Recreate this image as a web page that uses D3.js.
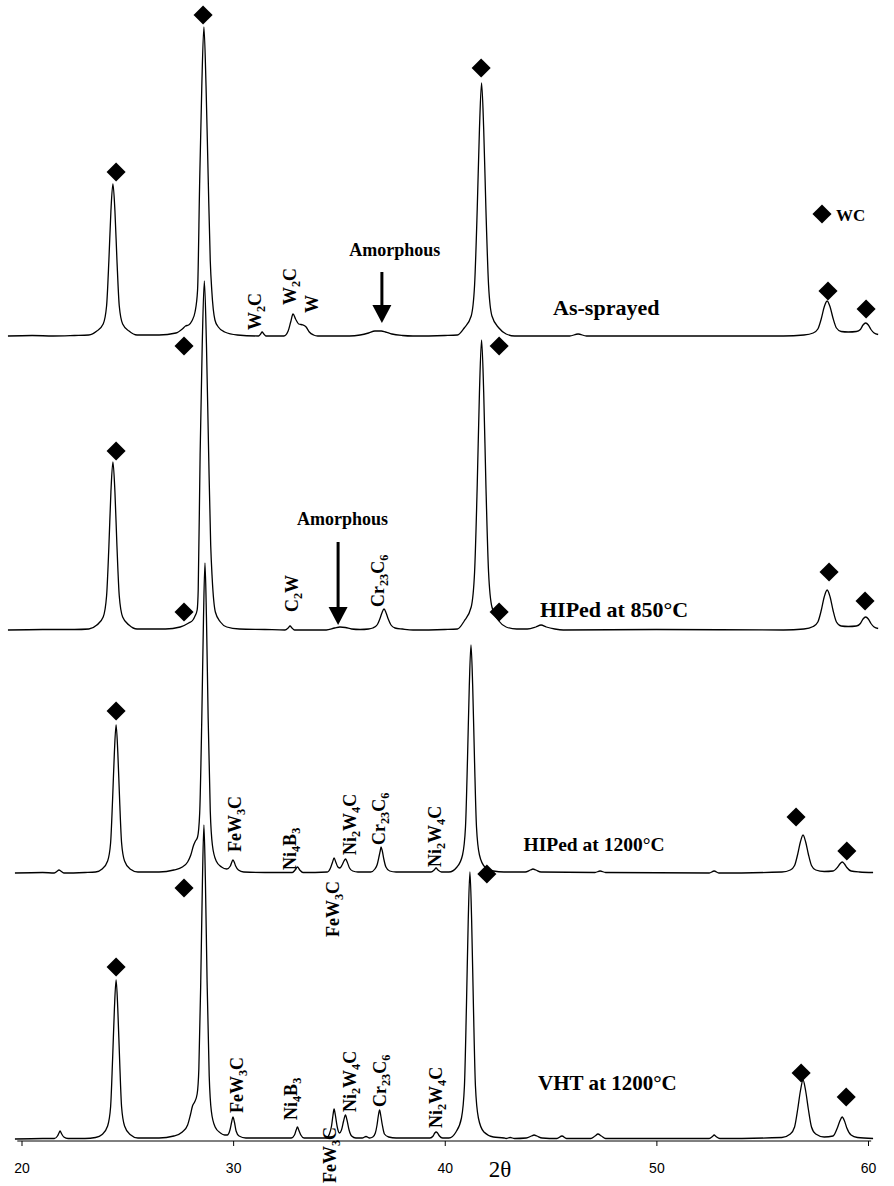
<!DOCTYPE html>
<html><head><meta charset="utf-8">
<script src="https://cdn.jsdelivr.net/npm/d3@7"></script>
<style>body{margin:0;background:#fff}svg{display:block}</style>
</head><body>
<script>
// ---------- DATA (2θ in degrees, intensity in arbitrary units above each trace's baseline) ----------
const seriesNames = ["As-sprayed", "HIPed at 850°C", "HIPed at 1200°C", "VHT at 1200°C"];
const seriesOffsets = [803, 509, 266, 0];
const xTicks = [20, 30, 40, 50, 60];

const asSprayed = [[19.36,0],[20.5,0.5],[21.5,0],[22.5,0.5],[23.18,1],[23.56,5],[23.86,12],[24.02,30],[24.13,76],[24.225,125],[24.32,152],[24.415,125],[24.51,76],[24.62,30],[24.78,12],[25.08,5],[25.46,1],[26.5,1],[27.3,3],[27.6,7],[27.75,10],[27.9,11],[28.05,15],[28.2,24],[28.32,46],[28.42,155],[28.52,250],[28.62,309],[28.72,250],[28.82,160],[28.92,75],[28.99,46],[29.14,16],[29.3,9],[29.6,4],[30.2,1],[31.2,0],[31.3,2],[31.37,4],[31.45,2],[31.55,0],[32.4,0],[32.6,5],[32.72,14],[32.83,22],[32.95,17],[33.1,12],[33.3,11],[33.45,9],[33.6,4],[33.8,1],[34.0,0],[35.5,0],[36.0,1],[36.4,3],[36.7,5],[37.0,5],[37.2,4],[37.5,2],[38.0,0.5],[38.5,0],[40.0,0.5],[40.6,1],[40.92,8],[41.25,20],[41.41,51],[41.535,127],[41.64,207],[41.74,253],[41.84,207],[41.945,127],[42.07,51],[42.23,20],[42.56,8],[42.9,2],[43.3,0],[45.9,0],[46.3,2],[46.7,0],[56.0,0],[56.97,1],[57.41,3],[57.63,7],[57.795,17.5],[57.93,29],[58.07,35],[58.21,29],[58.345,18],[58.51,8],[58.73,4.5],[59.07,4],[59.45,4.5],[59.64,6.5],[59.765,11],[59.89,13],[60.015,11],[60.14,6.5],[60.29,3],[60.48,1.5]];

const hiped850 = [[19.36,0],[21,0.5],[22.5,0.5],[23.18,1],[23.56,5],[23.86,13],[24.02,34],[24.13,84],[24.225,138],[24.32,168],[24.415,138],[24.51,84],[24.62,34],[24.78,13],[25.08,5],[25.46,1],[26.8,1],[27.5,3],[27.9,7],[28.1,10],[28.2,14],[28.3,20],[28.35,40],[28.44,175],[28.54,285],[28.64,349],[28.74,285],[28.84,180],[28.94,85],[29.01,52],[29.16,18],[29.4,8],[29.7,3],[30.3,1],[31.5,0.5],[32.45,0],[32.6,2],[32.69,4],[32.78,2],[32.9,0],[34.4,0],[34.8,2],[35.05,3],[35.3,2.5],[35.6,1],[36.0,0.5],[36.4,1],[36.6,2],[36.8,5],[36.93,11],[37.03,17],[37.13,21],[37.23,17],[37.33,11],[37.46,5],[37.65,2],[38.0,1],[38.5,0],[40.0,0.5],[40.6,1],[40.92,9],[41.25,23],[41.41,58],[41.535,145],[41.64,238],[41.74,290],[41.84,238],[41.945,145],[42.07,58],[42.23,23],[42.56,9],[42.9,3],[43.4,1],[43.9,1],[44.3,3],[44.55,5],[44.8,3],[45.2,1],[45.6,0],[50,0.5],[56.0,0],[56.97,1],[57.41,3.5],[57.63,8],[57.795,20],[57.93,33],[58.07,40],[58.21,33],[58.345,20],[58.51,8],[58.73,4],[59.07,3.5],[59.45,4],[59.64,6.5],[59.765,11],[59.89,13],[60.015,11],[60.14,6.5],[60.29,3],[60.48,1.5]];

const hiped1200 = [[19.69,0],[21.0,0.5],[21.55,0],[21.7,2],[21.77,3],[21.85,2],[22.0,0],[23.0,0.5],[23.5,1],[23.81,4],[24.07,12],[24.21,30],[24.305,74],[24.39,121],[24.47,148],[24.55,121],[24.635,74],[24.73,30],[24.87,12],[25.13,4],[25.5,1],[26.5,1],[27.2,3],[27.6,6],[27.85,11],[28.0,18],[28.12,27],[28.22,32],[28.32,36],[28.42,60],[28.52,155],[28.6,255],[28.67,310],[28.74,255],[28.82,155],[28.92,62],[29.02,28],[29.2,12],[29.45,6],[29.7,4],[29.87,7],[29.94,11],[29.99,13],[30.05,11],[30.12,7],[30.25,3],[30.5,1],[31.5,0.5],[32.8,0.5],[32.93,3],[33.04,6],[33.15,3],[33.3,0.5],[34.45,1],[34.6,5],[34.7,11],[34.77,15],[34.85,11],[34.95,6],[35.05,5],[35.15,8],[35.24,12],[35.31,14],[35.39,11],[35.5,5],[35.65,2],[35.9,1],[36.5,1],[36.7,4],[36.8,8],[36.9,17],[36.95,22],[36.99,26],[37.05,22],[37.12,14],[37.22,6],[37.4,2],[37.7,1],[39.35,1],[39.5,3],[39.59,5],[39.68,3],[39.85,1],[40.2,1],[40.58,6],[40.84,18],[40.98,46],[41.075,114],[41.16,187],[41.24,228],[41.32,187],[41.405,114],[41.5,46],[41.64,18],[41.9,6],[42.3,2],[42.8,1],[43.8,1],[44.05,3],[44.17,4],[44.3,3],[44.55,1],[47.1,0.5],[47.34,2],[47.6,0.5],[52.5,0],[52.73,2],[52.95,0],[55.93,1],[56.33,3],[56.53,7.5],[56.68,19],[56.805,31],[56.93,38],[57.055,31],[57.18,19],[57.33,7.5],[57.53,3],[57.93,1.5],[58.35,2],[58.55,5.5],[58.67,9],[58.78,11],[58.89,9],[59.0,5.5],[59.2,2],[59.6,1],[60.24,0.5]];

const vht1200 = [[19.69,0],[21.0,0.5],[21.55,0.5],[21.7,3],[21.77,6],[21.82,8],[21.9,5],[22.0,2],[22.2,0.5],[23.0,0.5],[23.5,1.5],[23.81,4.5],[24.07,13],[24.21,32],[24.305,80],[24.39,130],[24.47,159],[24.55,130],[24.635,80],[24.73,32],[24.87,13],[25.13,4.5],[25.5,1],[26.5,1],[27.2,3],[27.6,7],[27.85,14],[27.98,24],[28.08,33],[28.18,37],[28.3,45],[28.38,70],[28.47,157],[28.55,258],[28.62,314],[28.69,258],[28.77,157],[28.87,63],[28.97,28],[29.15,12],[29.4,6],[29.6,4],[29.72,4],[29.85,9],[29.93,17],[29.99,22],[30.06,17],[30.14,8],[30.28,3],[30.6,1],[32.75,1],[32.9,4],[32.98,9],[33.04,12],[33.1,9],[33.2,4],[33.35,1],[34.4,1],[34.55,5],[34.65,13],[34.72,24],[34.77,30],[34.83,24],[34.92,12],[35.02,6],[35.12,9],[35.22,18],[35.31,24],[35.38,19],[35.48,9],[35.6,3],[35.8,1],[36.1,1],[36.28,2.5],[36.45,1],[36.6,2],[36.72,6],[36.8,14],[36.86,23],[36.92,29],[36.98,23],[37.05,14],[37.15,5],[37.35,2],[37.7,1],[39.3,1],[39.45,3],[39.53,6],[39.59,7],[39.66,6],[39.75,3],[39.9,1],[40.2,1],[40.53,7],[40.79,21],[40.93,53],[41.025,133],[41.11,219],[41.19,267],[41.27,219],[41.355,133],[41.45,53],[41.59,21],[41.85,7],[42.3,2],[42.8,1],[42.9,0.5],[43.09,1.5],[43.3,0.5],[43.85,1],[44.1,3],[44.22,4],[44.35,3],[44.6,1],[45.3,0.5],[45.54,3],[45.75,0.5],[46.9,0.5],[47.1,3],[47.24,5],[47.4,3],[47.6,0.5],[52.5,0.5],[52.65,2.5],[52.73,4],[52.82,2.5],[53.0,0.5],[55.93,1.5],[56.33,5],[56.53,12],[56.68,30],[56.805,48],[56.93,59],[57.055,48],[57.18,30],[57.33,12],[57.53,5],[57.93,2],[58.35,3],[58.55,11],[58.67,18],[58.78,22],[58.89,18],[59.0,11],[59.2,4],[59.5,1.5],[60.24,0.5]];

// WC reflection markers (2θ, intensity above trace baseline)
const wcMarkers = [
  [[24.47,164],[28.58,321],[41.72,268],[58.11,45],[59.91,27]],
  [[24.47,179],[27.68,284],[42.57,284],[58.16,58],[59.86,29]],
  [[24.47,162],[27.68,261],[42.57,261],[56.6,56],[59.0,22]],
  [[24.47,172],[27.68,251],[41.99,265],[56.84,66],[58.97,42]]
];
// Phase labels (text, 2θ of label, intensity at label start)
const phaseLabels = [
  [["W2C",31.04,6],["W2C",32.69,31],["W",33.73,23]],
  [["C2W",32.78,18],["Cr23C6",36.85,23]],
  [["FeW3C",30.09,21],["Ni4B3",32.69,3],["Ni2W4C",35.52,18],["Cr23C6",36.89,28],["Ni2W4C",39.54,6],["FeW3C",34.72,-64]],
  [["FeW3C",30.18,26],["Ni4B3",32.74,19],["Ni2W4C",35.52,27],["Cr23C6",36.94,32],["Ni2W4C",39.59,11],["FeW3C",34.58,-44]]
];
// series name label anchor (2θ, intensity)
const seriesLabelPos = [[45.12,21],[44.5,13],[43.72,22],[44.41,49]];
// amorphous annotations: [series, text 2θ, text intensity, arrow 2θ, arrow top, arrow tip]
const amorphous = [[0,35.49,80,37.03,64,13],[1,33.02,105,34.96,88,5]];

const traces = [asSprayed, hiped850, hiped1200, vht1200];

// ---------- DRAW ----------
const W = 894, H = 1186;
const svg = d3.select("body").append("svg").attr("width", W).attr("height", H);
const x = d3.scaleLinear().domain([20, 60]).range([21.5, 868]);
const y = d3.scaleLinear().domain([0, 1140]).range([1139, -1]);
const serif = "'Liberation Serif','Times New Roman',serif";

const line = d3.line().x(d => x(d[0])).y(d => y(d[1])).curve(d3.curveMonotoneX);

// axis
const axisY = 1141;
const ax = svg.append("g").attr("transform", `translate(0,${axisY})`)
  .call(d3.axisBottom(x).tickValues(xTicks).tickSize(5).tickPadding(17).tickFormat(d3.format("d")));
ax.select(".domain").attr("d", `M${x(19.8)},0H${x(60.15)}`).attr("stroke", "#000").attr("stroke-width", 1);
ax.selectAll(".tick line").attr("stroke", "#000");
ax.selectAll(".tick text").attr("font-family", "'Liberation Sans',Arial,sans-serif").attr("font-size", 14).attr("fill", "#000");
svg.append("text").attr("x", 500).attr("y", 1177).attr("text-anchor", "middle")
  .attr("font-family", serif).attr("font-size", 23).text("2θ");

// traces
traces.forEach((t, i) => {
  const off = seriesOffsets[i];
  svg.append("path").datum(t.map(d => [d[0], d[1] + off]))
    .attr("d", line).attr("fill", "none").attr("stroke", "#000").attr("stroke-width", 1.3)
    .attr("stroke-linejoin", "round");
});

// diamonds
function diamond(cx, cy, s) {
  svg.append("rect").attr("x", -s/2).attr("y", -s/2).attr("width", s).attr("height", s)
    .attr("transform", `translate(${cx},${cy}) rotate(45)`).attr("fill", "#000");
}
wcMarkers.forEach((m, i) => m.forEach(d => diamond(x(d[0]), y(d[1] + seriesOffsets[i]), 13.5)));
// legend
diamond(822, 214, 13.5);
svg.append("text").attr("x", 836).attr("y", 221).attr("font-family", serif).attr("font-weight", "bold")
  .attr("font-size", 17).text("WC");

// formula labels (rotated, digits as subscripts)
function formula(px, py, str, size) {
  const t = svg.append("text").attr("transform", `translate(${px + size*0.33},${py}) rotate(-90)`)
    .attr("font-family", serif).attr("font-weight", "bold").attr("font-size", size);
  const parts = str.match(/[A-Za-z]+|\d+/g);
  let sub = false;
  parts.forEach(p => {
    const isNum = /\d/.test(p);
    const ts = t.append("tspan").text(p);
    if (isNum) { ts.attr("font-size", size*0.68).attr("dy", sub ? 0 : size*0.22); sub = true; }
    else { if (sub) ts.attr("dy", -size*0.22); sub = false; }
  });
}
phaseLabels.forEach((arr, i) => arr.forEach(l => formula(x(l[1]), y(l[2] + seriesOffsets[i]), l[0], 18)));

// series labels
const labelSizes = [22, 22, 19.5, 21];
seriesNames.forEach((n, i) => {
  svg.append("text").attr("x", x(seriesLabelPos[i][0])).attr("y", y(seriesLabelPos[i][1] + seriesOffsets[i]))
    .attr("font-family", serif).attr("font-weight", "bold").attr("font-size", labelSizes[i]).text(n);
});

// amorphous annotations
amorphous.forEach(a => {
  const off = seriesOffsets[a[0]];
  svg.append("text").attr("x", x(a[1])).attr("y", y(a[2] + off)).attr("font-family", serif)
    .attr("font-weight", "bold").attr("font-size", 18).text("Amorphous");
  const ax0 = x(a[3]), yTop = y(a[4] + off), yTip = y(a[5] + off);
  svg.append("line").attr("x1", ax0).attr("x2", ax0).attr("y1", yTop).attr("y2", yTip - 10)
    .attr("stroke", "#000").attr("stroke-width", 3);
  svg.append("path").attr("d", `M${ax0-9.5},${yTip-18}L${ax0+9.5},${yTip-18}L${ax0},${yTip}Z`).attr("fill", "#000");
});
</script>
</body></html>
